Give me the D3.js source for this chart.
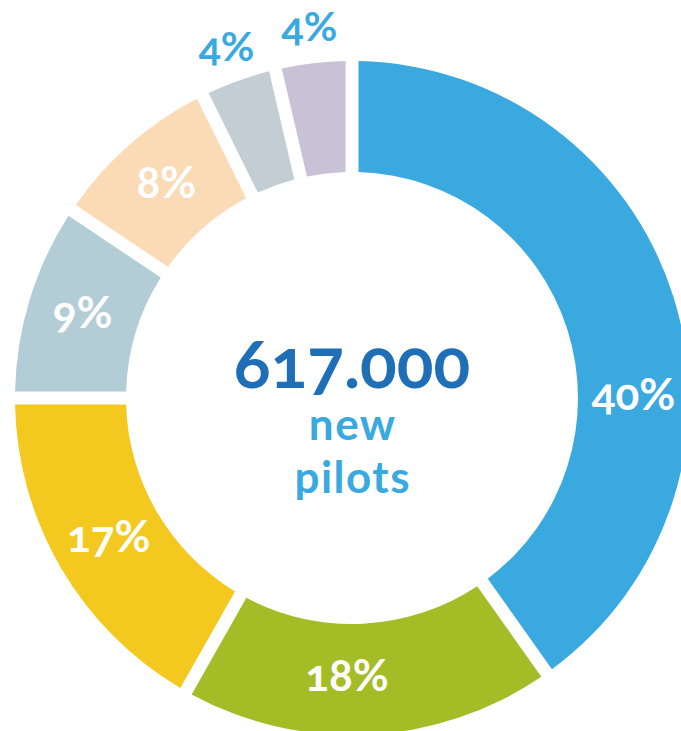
<!DOCTYPE html>
<html>
<head>
<meta charset="utf-8">
<script src="https://cdn.jsdelivr.net/npm/d3@7"></script>
<style>
  html, body { margin: 0; padding: 0; background: #ffffff; overflow: hidden; }
  svg { display: block; }
  text { font-family: "Lato", "Open Sans", sans-serif; font-weight: 700; font-variant-numeric: oldstyle-nums; font-feature-settings: "onum" 1; }
</style>
</head>
<body>
<svg id="chart" width="681" height="731"></svg>
<script>
// ---- data ----
const categories = ["A", "B", "C", "D", "E", "F", "G"];
const shares = [40.2, 18.0, 16.8, 9.4, 8.3, 3.65, 3.65];
const colors = ["#39a9e0", "#a4bc26", "#f4c91f", "#b2cdd5", "#fadbb5", "#c2ced4", "#c9c1d5"];
const centerValue = "617.000";
const centerLines = ["new", "pilots"];

// ---- layout ----
const cx = 352, cy = 398;
const R = 337, r = 226;
const gap = 13;
const outsideIdx = new Set([5, 6]);           // labels placed outside the ring
const labelAngleOverride = {0: 90, 1: 181};    // degrees clockwise from top

const svg = d3.select("#chart");
const g = svg.append("g").attr("transform", `translate(${cx},${cy})`);

const data = categories.map((c, i) => ({cat: c, value: shares[i], color: colors[i], label: Math.round(shares[i]) + "%"}));

const pie = d3.pie().value(d => d.value).sort(null);
const arc = d3.arc().innerRadius(r).outerRadius(R).padAngle(gap / R).padRadius(R);
const arcs = pie(data);

g.selectAll("path.slice")
  .data(arcs)
  .join("path")
  .attr("class", "slice")
  .attr("d", arc)
  .attr("fill", d => d.data.color);

const labelPos = (d, i) => {
  let a = (d.startAngle + d.endAngle) / 2;
  if (labelAngleOverride[i] !== undefined) a = labelAngleOverride[i] * Math.PI / 180;
  const rr = outsideIdx.has(i) ? 372 : (r + R) / 2;
  return [rr * Math.sin(a), -rr * Math.cos(a)];
};

g.selectAll("text.lbl")
  .data(arcs)
  .join("text")
  .attr("class", "lbl")
  .attr("text-anchor", "middle")
  .attr("x", (d, i) => labelPos(d, i)[0])
  .attr("y", (d, i) => labelPos(d, i)[1] + (outsideIdx.has(i) ? 13 : 12))
  .attr("font-size", (d, i) => outsideIdx.has(i) ? 41 : 44)
  .attr("fill", (d, i) => outsideIdx.has(i) ? "#39a9e0" : "#ffffff")
  .text(d => d.data.label);

// center text
g.append("text")
  .attr("text-anchor", "middle")
  .attr("x", 0)
  .attr("y", 388 - cy)
  .attr("font-size", 68)
  .attr("font-weight", 900)
  .attr("fill", "#1e6fb8")
  .text(centerValue);

g.selectAll("text.sub")
  .data(centerLines)
  .join("text")
  .attr("class", "sub")
  .attr("text-anchor", "middle")
  .attr("x", 0.75)
  .attr("y", (d, i) => 440 - cy + i * 53)
  .attr("font-size", 44)
  .attr("letter-spacing", 1.5)
  .attr("fill", "#39a9e0")
  .text(d => d);
</script>
</body>
</html>
